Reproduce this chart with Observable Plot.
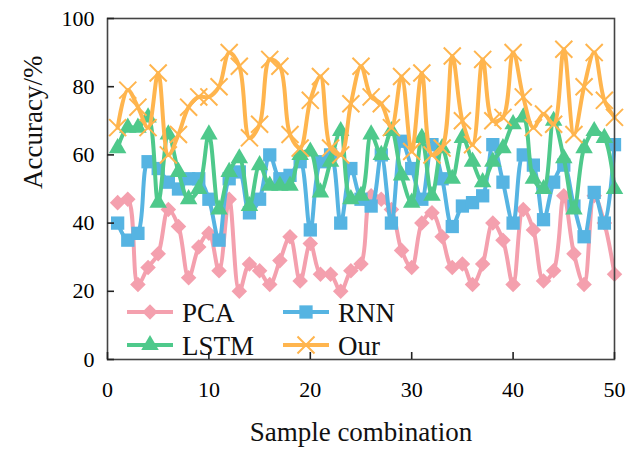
<!DOCTYPE html>
<html><head><meta charset="utf-8">
<script src="https://cdn.jsdelivr.net/npm/d3@7"></script>
<script src="https://cdn.jsdelivr.net/npm/@observablehq/plot@0.6"></script>
<style>
body{margin:0;background:#fff;}
#wrap{position:relative;width:628px;height:454px;font-family:"Liberation Serif","Times New Roman",serif;}
#wrap svg, #wrap svg text{font-family:"Liberation Serif","Times New Roman",serif !important;}
#legend{position:absolute;left:0;top:0;pointer-events:none;}
</style></head><body><div id="wrap"></div>
<script>
const samples = d3.range(1, 51);
const pca  = [46,47,22,27,31,44,39,24,33,37, 26,47,20,28,26,22,29,36,23,34, 25,25,20,26,28,48,47,44,32,27, 40,43,36,27,28,22,28,40,35,22, 44,38,23,26,48,31,22,48,40,25];
const rnn  = [40,35,37,58,56,52,50,53,53,47, 35,53,55,43,47,60,53,54,58,38, 58,60,40,56,47,45,60,40,64,56, 47,63,53,39,45,46,48,63,52,40, 60,57,41,52,57,45,36,49,40,63];
const lstm = [62,68,68,71,46,66,55,47,50,66, 44,55,59,45,57,51,51,51,60,61, 49,58,67,47,48,66,60,67,54,46, 65,48,62,53,65,58,52,58,62,69, 71,53,50,70,59,44,62,67,65,50];
const our  = [68,79,74,68,84,60,66,74,77,77, 80,90,86,65,69,88,86,66,62,76, 83,62,60,75,86,77,75,68,83,61, 84,60,62,89,70,63,88,70,71,90, 77,68,72,69,91,66,80,90,76,71];

const seriesNames = ["PCA", "RNN", "LSTM", "Our"];
const seriesValues = [pca, rnn, lstm, our];
const seriesColors = ["#F4A0AE", "#56B4E2", "#4EC98B", "#FFB54E"];
const seriesSymbols = ["diamond2", "square", "triangle", "times"];
const seriesR = [7, 7.5, 6.5, 7.8];
const xTicks = [0, 10, 20, 30, 40, 50];
const yTicks = [0, 20, 40, 60, 80, 100];
const xTitle = "Sample combination";
const yTitle = "Accuracy/%";

const rows = [];
seriesNames.forEach((name, k) => seriesValues[k].forEach((v, i) => rows.push({series: name, x: samples[i], y: v})));

const marks = [];
seriesNames.forEach((name, k) => {
  const d = rows.filter(r => r.series === name);
  marks.push(Plot.line(d, {x: "x", y: "y", stroke: seriesColors[k], strokeWidth: 4, curve: "catmull-rom"}));
  if (seriesSymbols[k] === "times") {
    marks.push(Plot.dot(d, {x: "x", y: "y", symbol: "times", stroke: seriesColors[k], strokeWidth: 2, r: seriesR[k]}));
  } else {
    marks.push(Plot.dot(d, {x: "x", y: "y", symbol: seriesSymbols[k], fill: seriesColors[k], stroke: "none", r: seriesR[k]}));
  }
});

const serif = '"Liberation Serif","Times New Roman",serif';
const chart = Plot.plot({
  width: 628, height: 454,
  marginLeft: 107, marginRight: 14, marginTop: 18, marginBottom: 95,
  style: {fontFamily: serif, background: "#fff", color: "#000"},
  x: {domain: [0, 50], ticks: xTicks},
  y: {domain: [0, 100], ticks: yTicks},
  marks: [
    ...marks,
    Plot.frame({stroke: "#444", strokeWidth: 1.6}),
    Plot.axisX({ticks: xTicks, tickSize: -7, tickPadding: 29, fontSize: 22, fontFamily: serif, label: null, stroke: "#222", strokeWidth: 1.6}),
    Plot.axisY({ticks: yTicks, tickSize: -7, tickPadding: 20, fontSize: 22, fontFamily: serif, label: null, stroke: "#222", strokeWidth: 1.6}),
    Plot.text([yTitle], {frameAnchor: "left", dx: -74, rotate: -90, fontSize: 27, fontFamily: serif, fill: "#111"}),
    Plot.text([xTitle], {frameAnchor: "bottom", dy: 81, fontSize: 27, fontFamily: serif, fill: "#111"})
  ]
});
const wrap = document.getElementById("wrap");
wrap.appendChild(chart);

// Legend overlay (inside plot area, bottom-left, two columns)
const legendItems = [
  {k: 0, col: 0, row: 0}, {k: 1, col: 1, row: 0},
  {k: 2, col: 0, row: 1}, {k: 3, col: 1, row: 1}
];
const lg = d3.select(wrap).append("svg").attr("id", "legend").attr("width", 628).attr("height", 454);
legendItems.forEach(({k, col, row}) => {
  const x0 = col === 0 ? 127 : 283;
  const y0 = row === 0 ? 312 : 345;
  const g = lg.append("g").attr("transform", `translate(${x0},${y0})`);
  g.append("line").attr("x1", 0).attr("x2", 46).attr("y1", 0).attr("y2", 0)
    .attr("stroke", seriesColors[k]).attr("stroke-width", 4);
  const symMap = {diamond2: d3.symbolDiamond2, square: d3.symbolSquare, triangle: d3.symbolTriangle, times: d3.symbolTimes};
  const size = Math.PI * seriesR[k] * seriesR[k];
  const p = g.append("path").attr("transform", "translate(23,0)").attr("d", d3.symbol(symMap[seriesSymbols[k]], size)());
  if (seriesSymbols[k] === "times") p.attr("fill", "none").attr("stroke", seriesColors[k]).attr("stroke-width", 2);
  else p.attr("fill", seriesColors[k]);
  g.append("text").attr("x", 55).attr("y", 10).attr("font-size", 27).attr("fill", "#111")
    .attr("font-family", serif).text(seriesNames[k]);
});
</script></body></html>
